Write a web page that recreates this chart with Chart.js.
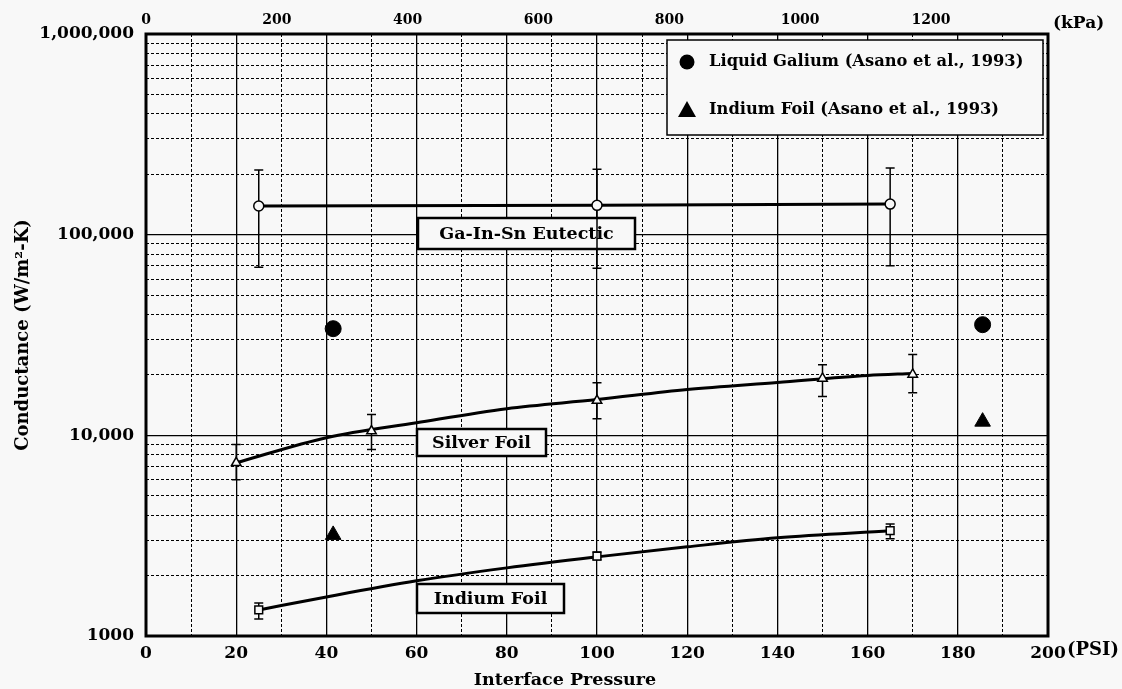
<!DOCTYPE html>
<html><head><meta charset="utf-8">
<script src="https://cdn.jsdelivr.net/npm/chart.js@4.4.0/dist/chart.umd.min.js"></script>
<style>html,body{margin:0;padding:0;background:#f8f8f8;}#wrap{width:1122px;height:689px;}</style>
</head><body><div id="wrap"><canvas id="c" width="1122" height="689"></canvas></div>
<script>
// ---- data ----
const eutecticPsi = [25, 100, 165];
const eutecticK = [139000, 140000, 142000];
const eutecticLow = [68800, 68000, 70000];
const eutecticHigh = [210000, 212000, 215000];

const silverPsi = [20, 50, 100, 150, 170];
const silverK = [7300, 10500, 14900, 19200, 20100];
const silverLow = [6000, 8500, 12100, 15600, 16300];
const silverHigh = [9000, 12700, 18300, 22500, 25300];
const silverFitPsi = [20, 40, 60, 80, 100, 120, 140, 160, 170];
const silverFitK = [7300, 9730, 11560, 13580, 15070, 16910, 18330, 19870, 20330];

const indiumPsi = [25, 100, 165];
const indiumK = [1350, 2500, 3350];
const indiumLow = [1216, 2400, 3050];
const indiumHigh = [1462, 2620, 3620];
const indiumFitPsi = [25, 40, 60, 80, 100, 120, 140, 165];
const indiumFitK = [1349, 1566, 1883, 2185, 2479, 2782, 3084, 3343];

const asanoPsi = [41.5, 185.5];
const asanoGalliumK = [34000, 35600];
const asanoIndiumK = [3190, 11700];

const psiGrid = [0,10,20,30,40,50,60,70,80,90,100,110,120,130,140,150,160,170,180,190,200];
const psiLabelTicks = [0,20,40,60,80,100,120,140,160,180,200];
const kpaTicks = [0,200,400,600,800,1000,1200];
const conductanceTicks = [1000, 10000, 100000, 1000000];
const conductanceTickLabels = ['1000', '10,000', '100,000', '1,000,000'];
const conductanceMultipliers = [1,2,3,4,5,6,7,8,9];

// ---- styles ----
const FONT = "'DejaVu Serif', 'Liberation Serif', serif";
const BG = '#f8f8f8';
const INK = '#000';
const KPA_PER_PSI = 6.89476;

const xy = (xs, ys) => xs.map((x, i) => ({x: x, y: ys[i]}));
const conductanceGrid = [];
conductanceTicks.forEach((d, i) => {
  if (i < conductanceTicks.length - 1) conductanceMultipliers.forEach(m => conductanceGrid.push(d * m));
  else conductanceGrid.push(d);
});
const isDecade = v => conductanceTicks.some(d => Math.abs(d - v) < 1e-6 * d);
const decadeLabel = v => { const i = conductanceTicks.findIndex(d => Math.abs(d - v) < 1e-6 * d); return i >= 0 ? conductanceTickLabels[i] : ''; };

const errorSets = [
  {xs: eutecticPsi, lo: eutecticLow, hi: eutecticHigh},
  {xs: silverPsi, lo: silverLow, hi: silverHigh},
  {xs: indiumPsi, lo: indiumLow, hi: indiumHigh}
];

const annotations = [
  {text: 'Ga-In-Sn Eutectic', x0: 418, y0: 218, x1: 635, y1: 249},
  {text: 'Silver Foil', x0: 417, y0: 429, x1: 546, y1: 456},
  {text: 'Indium Foil', x0: 417, y0: 584, x1: 564, y1: 613}
];

const bgPlugin = {
  id: 'bg',
  beforeDraw(chart) {
    const c = chart.ctx; c.save(); c.fillStyle = BG; c.fillRect(0, 0, chart.width, chart.height); c.restore();
  }
};

const underPlugin = {
  id: 'under',
  beforeDatasetsDraw(chart) {
    const c = chart.ctx, xs = chart.scales.x, ys = chart.scales.y;
    c.save();
    annotations.forEach(a => {
      c.fillStyle = BG; c.fillRect(a.x0, a.y0, a.x1 - a.x0, a.y1 - a.y0);
      c.strokeStyle = INK; c.lineWidth = 2.5; c.strokeRect(a.x0, a.y0, a.x1 - a.x0, a.y1 - a.y0);
      c.fillStyle = INK; c.font = "bold 17.5px " + FONT; c.textAlign = 'center'; c.textBaseline = 'middle';
      c.fillText(a.text, (a.x0 + a.x1) / 2, (a.y0 + a.y1) / 2 + 1);
    });
    c.strokeStyle = INK; c.lineWidth = 1.5;
    errorSets.forEach(s => {
      s.xs.forEach((xv, i) => {
        const px = xs.getPixelForValue(xv), pl = ys.getPixelForValue(s.lo[i]), ph = ys.getPixelForValue(s.hi[i]);
        c.beginPath();
        c.moveTo(px, pl); c.lineTo(px, ph);
        c.moveTo(px - 4.5, pl); c.lineTo(px + 4.5, pl);
        c.moveTo(px - 4.5, ph); c.lineTo(px + 4.5, ph);
        c.stroke();
      });
    });
    c.restore();
  }
};

const overPlugin = {
  id: 'over',
  afterDatasetsDraw(chart) {
    const c = chart.ctx, a = chart.chartArea;
    c.save();
    const lx0 = 667, ly0 = 40, lx1 = 1043, ly1 = 135;
    c.fillStyle = BG; c.fillRect(lx0, ly0, lx1 - lx0, ly1 - ly0);
    c.strokeStyle = INK; c.lineWidth = 1.5; c.strokeRect(lx0, ly0, lx1 - lx0, ly1 - ly0);
    const ds = chart.data.datasets;
    const items = [ds[5], ds[6]];
    items.forEach((d, i) => {
      const cy = 62 + i * 48, cx = 687;
      c.fillStyle = INK;
      c.beginPath();
      if (d.pointStyle === 'circle') { c.arc(cx, cy, 7.5, 0, Math.PI * 2); }
      else { c.moveTo(cx, cy - 9); c.lineTo(cx + 9, cy + 7); c.lineTo(cx - 9, cy + 7); c.closePath(); }
      c.fill();
      c.font = "bold 16.3px " + FONT; c.textAlign = 'left'; c.textBaseline = 'middle';
      c.fillText(d.label, 709, cy);
    });
    c.strokeStyle = INK; c.lineWidth = 3;
    c.strokeRect(a.left, a.top, a.right - a.left, a.bottom - a.top);
    c.fillStyle = INK; c.textAlign = 'left'; c.textBaseline = 'middle';
    c.font = "bold 18px " + FONT;
    c.fillText('(PSI)', 1067, 650);
    c.font = "bold 17px " + FONT;
    c.fillText('(kPa)', 1053, 24);
    c.textAlign = 'center';
    c.font = "bold 17.5px " + FONT;
    c.fillText('Interface Pressure', 565, 680);
    c.restore();
  }
};

const tickFont = {family: FONT, size: 17, weight: 'bold'};

new Chart(document.getElementById('c'), {
  type: 'scatter',
  data: {
    datasets: [
      {label: 'Ga-In-Sn Eutectic', data: xy(eutecticPsi, eutecticK), showLine: true, borderColor: INK, borderWidth: 3,
       pointStyle: 'circle', pointRadius: 5, pointBackgroundColor: BG, pointBorderColor: INK, pointBorderWidth: 1.5, order: 1},
      {label: 'Silver Foil (fit)', data: xy(silverFitPsi, silverFitK), showLine: true, borderColor: INK, borderWidth: 3,
       pointRadius: 0, cubicInterpolationMode: 'monotone', order: 2},
      {label: 'Silver Foil', data: xy(silverPsi, silverK), showLine: false, pointStyle: 'triangle', pointRadius: 5.5,
       pointBackgroundColor: BG, pointBorderColor: INK, pointBorderWidth: 1.5, order: 1},
      {label: 'Indium Foil (fit)', data: xy(indiumFitPsi, indiumFitK), showLine: true, borderColor: INK, borderWidth: 3,
       pointRadius: 0, cubicInterpolationMode: 'monotone', order: 2},
      {label: 'Indium Foil', data: xy(indiumPsi, indiumK), showLine: false, pointStyle: 'rect', pointRadius: 5.5,
       pointBackgroundColor: BG, pointBorderColor: INK, pointBorderWidth: 1.5, order: 1},
      {label: 'Liquid Galium (Asano et al., 1993)', data: xy(asanoPsi, asanoGalliumK), showLine: false, pointStyle: 'circle',
       pointRadius: 8, pointBackgroundColor: INK, pointBorderColor: INK, order: 1},
      {label: 'Indium Foil (Asano et al., 1993)', data: xy(asanoPsi, asanoIndiumK), showLine: false, pointStyle: 'triangle',
       pointRadius: 9, pointBackgroundColor: INK, pointBorderColor: INK, order: 1}
    ]
  },
  options: {
    responsive: false,
    animation: false,
    events: [],
    layout: {padding: {left: 0, right: 74, top: 0, bottom: 0}},
    plugins: {legend: {display: false}, tooltip: {enabled: false}},
    scales: {
      x: {
        type: 'linear', position: 'bottom', min: 0, max: 200,
        afterBuildTicks: s => { s.ticks = psiGrid.map(v => ({value: v})); },
        afterFit: s => { s.height = 53; },
        ticks: {autoSkip: false, maxRotation: 0, padding: 7, color: INK, font: tickFont,
          callback: v => psiLabelTicks.includes(v) ? String(v) : ''},
        grid: {drawTicks: false, color: INK, lineWidth: ctx => (ctx.tick && ctx.tick.value % 20 === 0) ? 1.3 : 1},
        border: {display: false, dash: ctx => (ctx.tick && ctx.tick.value % 20 !== 0) ? [3, 2] : []}
      },
      x2: {
        type: 'linear', position: 'top', min: 0, max: 200 * KPA_PER_PSI,
        afterBuildTicks: s => { s.ticks = kpaTicks.map(v => ({value: v})); },
        afterFit: s => { s.height = 34; },
        ticks: {autoSkip: false, maxRotation: 0, padding: 5, color: INK, font: {family: FONT, size: 14, weight: 'bold'}, callback: v => String(v)},
        grid: {display: false, drawTicks: false},
        border: {display: false}
      },
      y: {
        type: 'logarithmic', position: 'left', min: 1000, max: 1000000,
        afterBuildTicks: s => { s.ticks = conductanceGrid.map(v => ({value: v})); },
        afterFit: s => { s.width = 146; },
        ticks: {autoSkip: false, padding: 12, color: INK, font: tickFont, callback: v => decadeLabel(v)},
        grid: {drawTicks: false, color: INK, lineWidth: ctx => (ctx.tick && isDecade(ctx.tick.value)) ? 1.3 : 1},
        border: {display: false, dash: ctx => (ctx.tick && !isDecade(ctx.tick.value)) ? [3, 2] : []},
        title: {display: true, text: 'Conductance (W/m²-K)', color: INK,
          font: {family: FONT, size: 18, weight: 'bold'}, padding: {top: 13, bottom: 0}}
      }
    }
  },
  plugins: [bgPlugin, underPlugin, overPlugin]
});
</script>
</body></html>
